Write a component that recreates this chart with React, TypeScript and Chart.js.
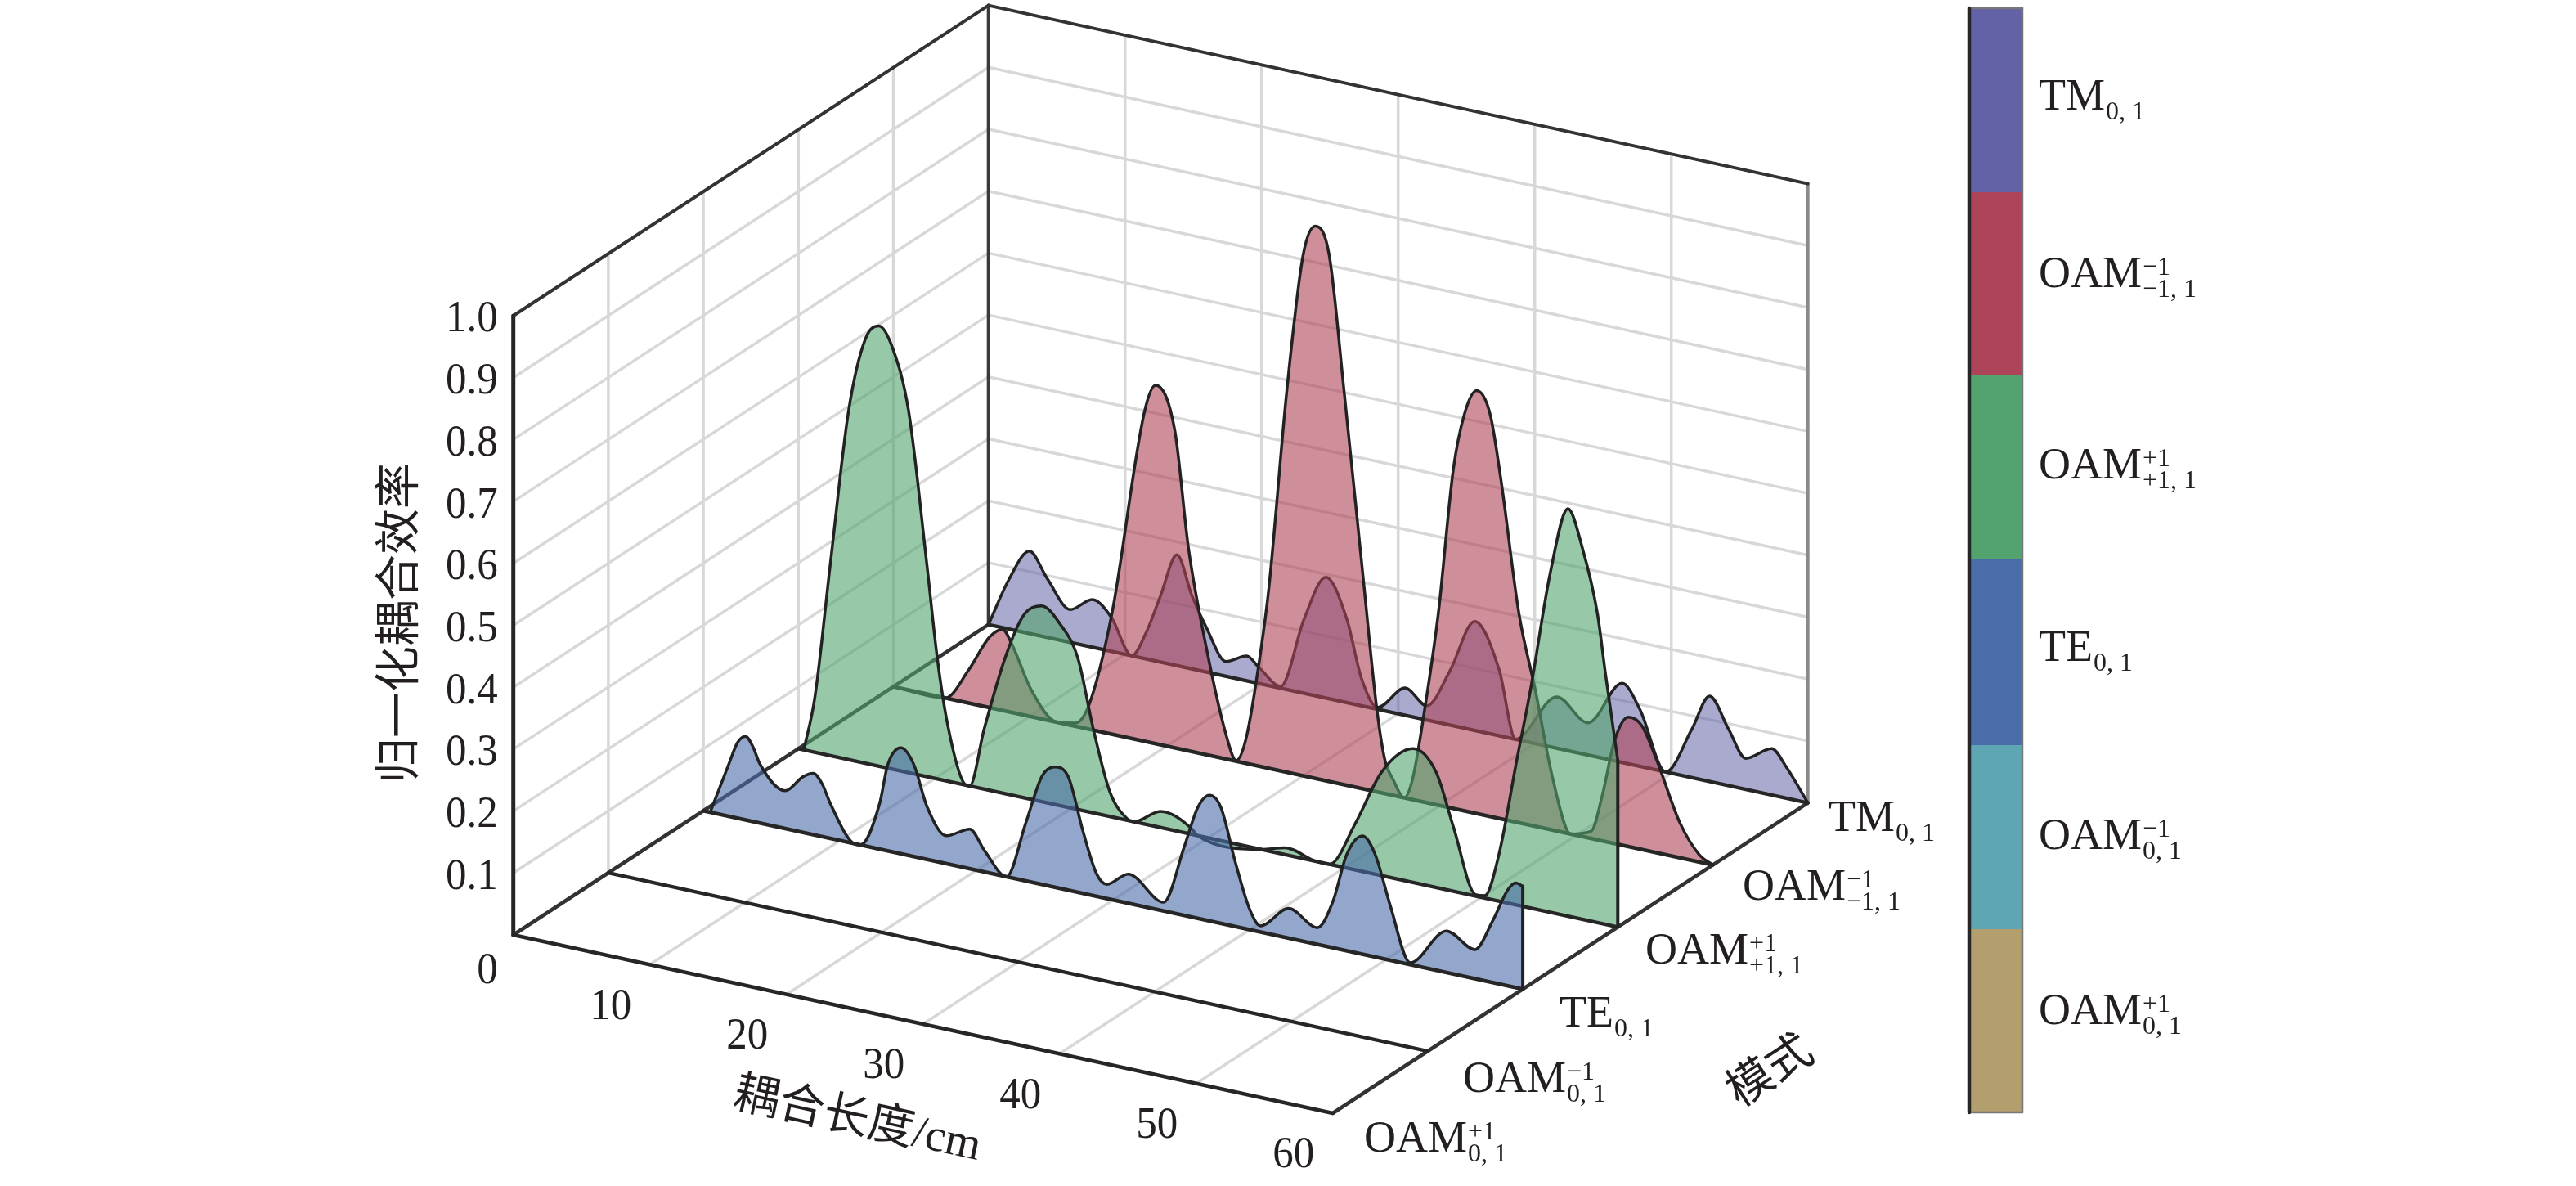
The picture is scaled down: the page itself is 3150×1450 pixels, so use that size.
import React, { useEffect, useRef } from "react";
import { Chart, registerables } from "chart.js";

Chart.register(...registerables);

// ---- data -------------------------------------------------------------
const lengthTicks = [10, 20, 30, 40, 50, 60];
const effTicks = [0.1, 0.2, 0.3, 0.4, 0.5, 0.6, 0.7, 0.8, 0.9, 1.0];
const modeIndex = [0, 1, 2, 3, 4, 5];
// [coupling length / cm, normalised efficiency]
const teCurve = [[0.5,0],[1.86,0.084],[2.5,0.122],[3.08,0.135],[3.6,0.122],[4.15,0.095],[5.99,0.061],[7.3,0.09],[8.05,0.099],[8.7,0.085],[9.3,0.056],[11,0],[11.5,0],[12.9,0.073],[13.5,0.139],[14.46,0.171],[15.4,0.149],[16.4,0.084],[17.8,0.045],[19.5,0.064],[20.6,0.034],[22.2,0],[23.6,0.093],[24.8,0.175],[25.7,0.194],[26.7,0.184],[27.8,0.1],[28.8,0.036],[29.55,0.023],[31.1,0.047],[33.7,0.014],[35.2,0.11],[36.2,0.179],[37.06,0.203],[37.9,0.187],[38.95,0.104],[40,0.033],[40.8,0.01],[42.85,0.048],[44.96,0.027],[46.1,0.075],[47.1,0.155],[48.26,0.191],[49.2,0.165],[50.3,0.088],[51.76,0.003],[54.4,0.067],[56.5,0.047],[57.8,0.1],[58.9,0.155],[59.5,0.169],[60,0.166]];
const greenCurve = [[0.4,0],[1.2,0.088],[2.34,0.31],[3.68,0.564],[4.9,0.685],[5.89,0.711],[6.9,0.68],[8.07,0.584],[9.4,0.344],[10.17,0.195],[10.94,0.09],[12.14,0.002],[12.54,0],[13.6,0.097],[15.13,0.219],[16.5,0.295],[17.8,0.316],[19.1,0.295],[20.47,0.244],[21.6,0.135],[22.8,0.04],[24.1,0.002],[24.6,0],[26.5,0.026],[28.8,0.009],[29.2,0],[33.9,0],[35.6,0.011],[37.9,0],[38.9,0],[40.8,0.076],[42.7,0.167],[45,0.216],[46.7,0.186],[47.96,0.104],[49.6,0.002],[50.26,0.004],[51.3,0.076],[52.6,0.234],[53.6,0.352],[55.06,0.549],[56.35,0.658],[57.4,0.6],[58.5,0.5],[59.1,0.404],[60,0.269]];
const redCurve = [[0,0],[3.8,0],[5.5,0.053],[7.04,0.114],[8,0.131],[8.63,0.112],[10.1,0.043],[12,0],[13.3,0.005],[14.3,0.038],[16,0.195],[18.4,0.534],[19.2,0.579],[20.6,0.513],[21.6,0.328],[22.9,0.174],[24.4,0.036],[25.1,0.001],[25.85,0.043],[26.9,0.187],[27.5,0.293],[28.8,0.615],[30,0.841],[30.9,0.892],[31.9,0.851],[33,0.635],[34.4,0.34],[35.4,0.133],[36,0.053],[36.6,0.025],[37.4,0],[38,0.032],[38.9,0.15],[39.9,0.31],[41,0.548],[41.8,0.64],[42.7,0.683],[43.7,0.649],[44.5,0.545],[45.8,0.338],[47,0.22],[48.3,0.081],[49.6,0],[51.1,0.012],[51.9,0.073],[52.8,0.166],[53.8,0.209],[54.8,0.2],[55.9,0.149],[57.6,0.056],[59,0.012],[60,0]];
const tmCurve = [[0,0],[1.5,0.08],[3,0.133],[4.3,0.095],[6,0.053],[7.6,0.077],[9,0.055],[10.5,0],[11.5,0.04],[12.6,0.107],[13.8,0.179],[14.9,0.118],[15.95,0.072],[17.4,0.024],[18.9,0.04],[19.85,0.025],[21.4,0.003],[23.1,0.119],[24.7,0.195],[26.25,0.134],[27.3,0.045],[28.5,0.003],[30.5,0.044],[32.1,0.023],[33.8,0.088],[35.6,0.176],[37.4,0.106],[38.6,0],[41.6,0.083],[43.9,0.052],[46.4,0.128],[47.7,0.092],[49.6,0],[51.5,0.078],[52.8,0.138],[54.2,0.091],[55.45,0.05],[57.35,0.075],[58.4,0.051],[60,0]];

const legendColors = ["#6462a6", "#ae4459", "#52a36d", "#4a6ca8", "#5fa6b5", "#b39f6d"];
const legendEdges = [10, 235, 459, 684, 911, 1136, 1360];
const yTitle = "归一化耦合效率";
const xTitle = "耦合长度/cm";
const modeTitle = "模式";
// main text, superscript, subscript
const modeLabels: [string, string, string][] = [
  ["OAM", "+1", "0, 1"],
  ["OAM", "−1", "0, 1"],
  ["TE", "", "0, 1"],
  ["OAM", "+1", "+1, 1"],
  ["OAM", "−1", "−1, 1"],
  ["TM", "", "0, 1"],
];

// ---- layout -----------------------------------------------------------
const W = 3150, H = 1450;
const O = { x: 627.7, y: 1143 };
const LV = { x: 1002 / 60, y: 218 / 60 };
const MV = { x: 581 / 5, y: -379.4 / 5 };
const ZH = 757;
const project = (L: number, m: number, z: number) => ({
  x: O.x + L * LV.x + m * MV.x,
  y: O.y + L * LV.y + m * MV.y - z * ZH,
});
const modeLabelAnchor = [[1668,1408],[1789,1335],[1907,1255],[2012,1178],[2131,1100],[2236,1016]];
const legendBaseline = [134, 351, 585, 808, 1038, 1252];
const legendOrder = [5, 4, 3, 2, 1, 0];
const SERIF = '"Liberation Serif"';
const CJK = '"Liberation Serif", "Noto Sans CJK SC"';
const DARK = "#262626";
const GRID = "#d8d8d8";

function buildDatasets() {
  const ds: any[] = [];
  const line = (data: any[], color: string, width: number, extra: any = {}) => {
    ds.push({ data, borderColor: color, borderWidth: width, pointRadius: 0, fill: false, tension: 0, borderCapStyle: "round", clip: false, ...extra });
  };
  // walls and floor grid
  effTicks.forEach((z) => {
    line([project(0, 0, z), project(0, 5, z)], GRID, 3.5);
    line([project(0, 5, z), project(60, 5, z)], GRID, 3.5);
  });
  modeIndex.slice(1, 5).forEach((m) => line([project(0, m, 0), project(0, m, 1)], GRID, 3.5));
  lengthTicks.slice(0, 5).forEach((L) => {
    line([project(L, 5, 0), project(L, 5, 1)], GRID, 3.5);
    line([project(L, 0, 0), project(L, 5, 0)], GRID, 3.5);
  });
  line([project(60, 5, 0), project(60, 5, 1)], "#8a8a8a", 4);
  line([project(0, 5, 0), project(0, 5, 1)], "#3a3a3a", 4);
  line([project(0, 0, 1), project(0, 5, 1)], "#333333", 4);
  line([project(0, 5, 1), project(60, 5, 1)], "#333333", 4);
  line([project(0, 0, 0), project(0, 0, 1)], DARK, 5);
  line([project(0, 0, 0), project(0, 5, 0)], "#333333", 4.5);
  line([project(60, 0, 0), project(60, 5, 0)], "#333333", 4.5);
  [0, 1].forEach((m) => line([project(0, m, 0), project(60, m, 0)], DARK, 4.5));

  const series: [number, number[][], string][] = [
    [5, tmCurve, "rgba(100,98,166,0.55)"],
    [4, redCurve, "rgba(174,68,89,0.6)"],
    [3, greenCurve, "rgba(82,163,109,0.6)"],
    [2, teCurve, "rgba(74,108,168,0.6)"],
  ];
  series.forEach(([m, curve, fillColor]) => {
    const pts = curve.map(([L, z]) => project(L, m, z));
    line(pts, "#222222", 3.5, {
      fill: "+1",
      backgroundColor: fillColor,
      cubicInterpolationMode: "monotone",
    });
    line([project(0, m, 0), project(60, m, 0)], DARK, 4.5);
    const last = curve[curve.length - 1];
    if (last[1] > 0) line([project(60, m, last[1]), project(60, m, 0)], "#222222", 4);
  });

  // colour legend
  const barL = 2408, barR = 2473;
  legendColors.forEach((c, i) => {
    const t = legendEdges[i], b = legendEdges[i + 1];
    line([{ x: barL, y: t }, { x: barR, y: t }], c, 0, { fill: "+1", backgroundColor: c });
    line([{ x: barL, y: b }, { x: barR, y: b }], c, 0);
  });
  line([{ x: barL, y: 10 }, { x: barR, y: 10 }], "#77777a", 2.5);
  line([{ x: barL, y: 1360 }, { x: barR, y: 1360 }], "#77777a", 2.5);
  line([{ x: barR, y: 10 }, { x: barR, y: 1360 }], "#77777a", 2.5);
  line([{ x: barL, y: 10 }, { x: barL, y: 1360 }], DARK, 4.5);

  ds.forEach((d, i) => (d.order = -i));
  return ds;
}

function drawModeLabel(ctx: CanvasRenderingContext2D, label: [string, string, string], x: number, y: number) {
  const [main, sup, sub] = label;
  ctx.textAlign = "left";
  ctx.textBaseline = "alphabetic";
  ctx.font = `54px ${SERIF}`;
  ctx.fillText(main, x, y);
  const w = ctx.measureText(main).width;
  ctx.font = `32px ${SERIF}`;
  if (sup) ctx.fillText(sup, x + w + 1, y - 15);
  ctx.fillText(sub, x + w + 1, y + 12);
}

const textPlugin = {
  id: "labels3d",
  afterDatasetsDraw(chart: any) {
    const { ctx, scales } = chart;
    const px = (p: { x: number; y: number }) => ({ x: scales.x.getPixelForValue(p.x), y: scales.y.getPixelForValue(p.y) });
    const tall = (txt: string, x: number, y: number) => {
      ctx.save();
      ctx.translate(x, y);
      ctx.scale(1, 1.08);
      ctx.fillText(txt, 0, 0);
      ctx.restore();
    };
    ctx.save();
    ctx.fillStyle = "#231f20";
    ctx.textBaseline = "middle";
    ctx.font = `51px ${SERIF}`;
    ctx.textAlign = "right";
    effTicks.forEach((z) => {
      const p = px(project(0, 0, z));
      tall(z.toFixed(1), p.x - 19, p.y + 5);
    });
    const zero = px(project(0, 0, 0));
    tall("0", zero.x - 19, zero.y + 45);
    ctx.textAlign = "center";
    lengthTicks.forEach((L) => {
      const p = px(project(L, 0, 0));
      tall(String(L), p.x - 48, p.y + 52);
    });
    modeLabels.forEach((lab, m) => drawModeLabel(ctx, lab, modeLabelAnchor[m][0], modeLabelAnchor[m][1]));
    legendOrder.forEach((m, i) => drawModeLabel(ctx, modeLabels[m], 2493, legendBaseline[i]));

    ctx.textAlign = "center";
    ctx.textBaseline = "middle";
    const rot = (txt: string, x: number, y: number, deg: number, size: number) => {
      ctx.save();
      ctx.font = `${size}px ${CJK}`;
      ctx.translate(x, y);
      ctx.rotate((deg * Math.PI) / 180);
      ctx.fillText(txt, 0, 0);
      ctx.restore();
    };
    rot(yTitle, 491, 762, -90, 56);
    rot(xTitle, 1048, 1371, 12.3, 56);
    rot(modeTitle, 2166, 1312, -33, 56);
    ctx.restore();
  },
};

export default function App() {
  const ref = useRef<HTMLCanvasElement>(null);
  useEffect(() => {
    document.body.style.margin = "0";
    document.body.style.background = "#ffffff";
    const chart = new Chart(ref.current as HTMLCanvasElement, {
      type: "line",
      data: { datasets: buildDatasets() },
      options: {
        animation: false,
        responsive: false,
        devicePixelRatio: 1,
        layout: { padding: 0 },
        plugins: { legend: { display: false }, tooltip: { enabled: false }, title: { display: false } },
        scales: {
          x: { type: "linear", min: 0, max: W, display: false },
          y: { type: "linear", min: 0, max: H, reverse: true, display: false },
        },
      },
      plugins: [textPlugin],
    } as any);
    return () => chart.destroy();
  }, []);
  return (
    <div style={{ position: "absolute", left: 0, top: 0, width: W, height: H, background: "#fff" }}>
      <canvas ref={ref} width={W} height={H} style={{ display: "block" }} />
    </div>
  );
}
